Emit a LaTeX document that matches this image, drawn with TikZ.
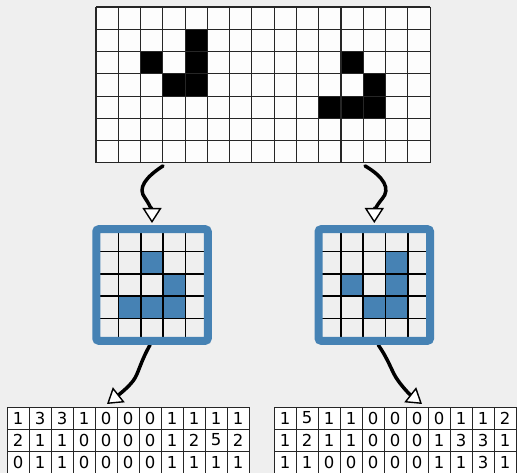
\documentclass[tikz,border=0pt]{standalone}
\usepackage{fontspec}
\setmainfont{DejaVu Sans}
\usetikzlibrary{arrows.meta,calc}
\definecolor{paper}{HTML}{EFEFEF}
\definecolor{cellwhite}{HTML}{FDFDFD}
\definecolor{winblue}{HTML}{4682B4}
\definecolor{rulegray}{HTML}{262626}
\begin{document}
\begin{tikzpicture}[x=1pt,y=-1pt,
  flow/.style={line width=3.5pt,line cap=round,
    -{Triangle[length=15pt,width=19pt,fill=white,line width'=1.4pt]}},
  bigline/.style={draw=rulegray,line width=1.1pt},
  winline/.style={draw=black,line width=1.5pt},
  winframe/.style={draw=winblue,line width=8pt,rounded corners=2.5pt},
  tcell/.style={draw=rulegray,fill=white,line width=1pt,minimum size=22pt,
    inner sep=0pt,font=\fontsize{16.5}{18}\selectfont},
  anchorbox/.style={inner sep=0pt,outer sep=0pt}]

% page
\fill[paper] (0,0) rectangle (517,473);
\useasboundingbox (0,0) rectangle (517,473);

% ---- large board, 15 x 7 cells ----
\def\cs{22.27}
\node[anchorbox,minimum width=334.05pt,minimum height=155.89pt] (top) at (263.03,84.95) {};
\fill[cellwhite] (96,7) rectangle (430.05,162.89);
\foreach \c/\r in {4/1,2/2,4/2,3/3,4/3,11/2,12/3,10/4,11/4,12/4}
  \fill[black] (96+\c*\cs,7+\r*\cs) rectangle ++(\cs,\cs);
\foreach \i in {0,...,15}
  \draw[bigline] (96+\i*\cs,7) -- (96+\i*\cs,162.89);
\foreach \j in {0,...,7}
  \draw[bigline] (96,7+\j*\cs) -- (430.05,7+\j*\cs);

% ---- tables of counts ----
\node[anchorbox,minimum width=242pt,minimum height=66pt] (tabL) at (128,440) {};
\node[anchorbox,minimum width=242pt,minimum height=66pt] (tabR) at (395,440) {};
\foreach \row [count=\r from 0] in {{1,3,3,1,0,0,0,1,1,1,1},{2,1,1,0,0,0,0,1,2,5,2},{0,1,1,0,0,0,0,1,1,1,1}}
  \foreach \v [count=\c from 0] in \row
    \node[tcell] at (18+22*\c,418+22*\r) {\v};
\foreach \row [count=\r from 0] in {{1,5,1,1,0,0,0,0,1,1,2},{1,2,1,1,0,0,0,1,3,3,1},{1,1,0,0,0,0,0,1,1,3,1}}
  \foreach \v [count=\c from 0] in \row
    \node[tcell] at (285+22*\c,418+22*\r) {\v};

% ---- window anchors ----
\node[anchorbox,minimum size=120pt] (winL) at (152,285) {};
\node[anchorbox,minimum size=120pt] (winR) at (374.3,285) {};

% ---- connectors ----
\draw[flow] ($(top.south west)+(67,3)$)
  .. controls (146,177) and (137,188) .. (145,198)
  .. controls (150,205) and (152,212) .. ($(winL.north)+(0,-2)$);
\draw[flow] ($(top.south west)+(269,3)$)
  .. controls (384,177) and (391,189) .. (382,199)
  .. controls (376,206) and (374.3,212) .. ($(winR.north)+(0,-2)$);
\draw[flow] ($(winL.south)+(-2,0)$)
  .. controls (141,361) and (139,371) .. (135,378)
  .. controls (131,385) and (121,393) .. ($(tabL.north west)+(100,-3)$);
\draw[flow] ($(winR.south)+(4,0)$)
  .. controls (386,356) and (390,366) .. (394,374)
  .. controls (398,382) and (408,393) .. ($(tabR.north west)+(148,-3)$);

% ---- sliding windows, 5 x 5 cells ----
\def\ws{22.3}
\begin{scope}[shift={(96.25,229.25)}]
  \fill[paper] (0,0) rectangle (111.5,111.5);
  \foreach \c/\r in {2/1,3/2,1/3,2/3,3/3}
    \fill[winblue] (\c*\ws,\r*\ws) rectangle ++(\ws,\ws);
  \foreach \i in {1,...,4} {
    \draw[winline] (\i*\ws,0) -- (\i*\ws,111.5);
    \draw[winline] (0,\i*\ws) -- (111.5,\i*\ws);
  }
  \draw[winframe] (0,0) rectangle (111.5,111.5);
\end{scope}
\begin{scope}[shift={(318.55,229.25)}]
  \fill[paper] (0,0) rectangle (111.5,111.5);
  \foreach \c/\r in {3/1,1/2,3/2,2/3,3/3}
    \fill[winblue] (\c*\ws,\r*\ws) rectangle ++(\ws,\ws);
  \foreach \i in {1,...,4} {
    \draw[winline] (\i*\ws,0) -- (\i*\ws,111.5);
    \draw[winline] (0,\i*\ws) -- (111.5,\i*\ws);
  }
  \draw[winframe] (0,0) rectangle (111.5,111.5);
\end{scope}
\end{tikzpicture}
\end{document}
